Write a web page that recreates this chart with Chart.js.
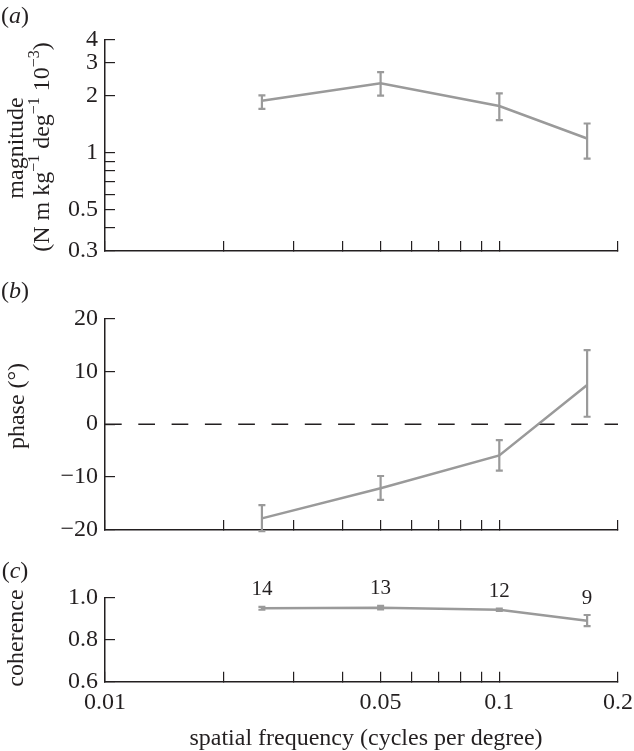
<!DOCTYPE html>
<html><head><meta charset="utf-8">
<script src="https://cdn.jsdelivr.net/npm/chart.js@4/dist/chart.umd.min.js"></script>
<style>
html,body{margin:0;padding:0;background:#fff;}
#wrap{position:relative;width:634px;height:751px;overflow:hidden;background:#fff;}
canvas{position:absolute;left:0;top:0;}
</style></head><body>
<div id="wrap">
<canvas id="ca" width="634" height="751"></canvas>
<canvas id="cb" width="634" height="751"></canvas>
<canvas id="cc" width="634" height="751"></canvas>
</div>
<script>
// ---------- data ----------
const freq = [0.025, 0.05, 0.1, 0.167];
const magnitude = [1.89, 2.34, 1.77, 1.19];
const magLow  = [1.71, 2.01, 1.49, 0.93];
const magHigh = [2.02, 2.68, 2.07, 1.43];
const phase = [-17.8, -12.1, -5.9, 7.4];
const phaseLow  = [-20.2, -14.3, -8.8, 1.4];
const phaseHigh = [-15.3, -9.8, -3.0, 14.0];
const coherence = [0.948, 0.951, 0.941, 0.889];
const cohLow  = [0.941, 0.943, 0.935, 0.863];
const cohHigh = [0.955, 0.959, 0.947, 0.916];
const nLabels = ['14', '13', '12', '9'];
const zeroLineX = [0.01, 0.2];
const zeroLineY = [0, 0];
const xTicks = [0.01, 0.02, 0.03, 0.04, 0.05, 0.06, 0.07, 0.08, 0.09, 0.1, 0.2];
const xTickLabels = ['0.01', '0.05', '0.1', '0.2'];
const magTicks = [0.3, 0.4, 0.5, 0.6, 0.7, 0.8, 0.9, 1, 2, 3, 4];
const magTickLabels = ['0.3', '0.5', '1', '2', '3', '4'];
const phaseTicks = [-20, -10, 0, 10, 20];
const cohTicks = [0.6, 0.8, 1.0];

// ---------- style ----------
const SERIF = "'Liberation Serif','Times New Roman',serif";
const INK = '#231f20';
const GRAY = '#9a9a9a';
const FS = 24;
const W = 634, H = 751, PL = 105, PR = 618;

function pts(xs, ys) { return xs.map((x, i) => ({x: x, y: ys[i]})); }

const errPlugin = {
  id: 'errbars',
  afterDatasetsDraw(chart) {
    const o = chart.options.plugins.errbars;
    if (!o || !o.low) return;
    const ctx = chart.ctx, xs = chart.scales.x, ys = chart.scales.y;
    ctx.save();
    ctx.strokeStyle = GRAY; ctx.lineWidth = 2.2; ctx.lineCap = 'butt';
    o.x.forEach((xv, i) => {
      const px = xs.getPixelForValue(xv);
      const y1 = ys.getPixelForValue(o.low[i]), y2 = ys.getPixelForValue(o.high[i]);
      ctx.beginPath();
      ctx.moveTo(px, y1); ctx.lineTo(px, y2);
      ctx.moveTo(px - 3.5, y1); ctx.lineTo(px + 3.5, y1);
      ctx.moveTo(px - 3.5, y2); ctx.lineTo(px + 3.5, y2);
      ctx.stroke();
      if (o.labels) {
        ctx.fillStyle = INK;
        ctx.font = '21px ' + SERIF;
        ctx.textAlign = 'center'; ctx.textBaseline = 'middle';
        ctx.fillText(o.labels[i], px, y2 - 17);
      }
    });
    ctx.restore();
  }
};

function fontFor(s) { return (s.sup ? '16px ' : (s.it ? 'italic ' + FS + 'px ' : FS + 'px ')) + SERIF; }

function drawRich(ctx, segs, x, y, rot) {
  ctx.save();
  ctx.translate(x, y);
  if (rot) ctx.rotate(-Math.PI / 2);
  ctx.textBaseline = 'middle'; ctx.textAlign = 'left';
  let total = 0;
  segs.forEach(s => { ctx.font = fontFor(s); s.w = ctx.measureText(s.t).width; total += s.w; });
  let cx = -total / 2;
  segs.forEach(s => {
    ctx.font = fontFor(s);
    ctx.fillStyle = INK;
    ctx.fillText(s.t, cx, s.sup ? -8 : 0);
    cx += s.w;
  });
  ctx.restore();
}

const textPlugin = {
  id: 'texts',
  afterDraw(chart) {
    const o = chart.options.plugins.texts;
    if (!o) return;
    o.items.forEach(it => drawRich(chart.ctx, it.segs, it.x, it.y, it.rot));
  }
};

function xScale(showLabels, h, pad) {
  return {
    type: 'logarithmic', min: 0.01, max: 0.2, position: 'bottom',
    afterBuildTicks: s => { s.ticks = xTicks.map(v => ({value: v})); },
    afterFit: s => { s.height = h; s.paddingLeft = 0; s.paddingRight = 0; s.paddingTop = 0; s.paddingBottom = 0; },
    grid: {display: true, drawOnChartArea: false, drawTicks: true, tickLength: -10, color: INK, lineWidth: 1.2},
    border: {display: true, color: INK, width: 1.5},
    ticks: {
      display: showLabels, autoSkip: false, maxRotation: 0, minRotation: 0, padding: pad,
      color: INK, font: {family: SERIF, size: FS},
      callback: v => { const s = String(+(+v).toPrecision(3)); return xTickLabels.includes(s) ? s : ''; }
    }
  };
}

function yScale(type, min, max, tickVals, fmt) {
  return {
    type: type, min: min, max: max, position: 'left',
    afterBuildTicks: s => { s.ticks = tickVals.map(v => ({value: v})); },
    afterFit: s => { s.width = PL; s.paddingTop = 0; s.paddingBottom = 0; s.paddingLeft = 0; s.paddingRight = 0; },
    grid: {display: true, drawOnChartArea: false, drawTicks: true, tickLength: -10, color: INK, lineWidth: 1.2},
    border: {display: true, color: INK, width: 1.5},
    ticks: {autoSkip: false, padding: 17, color: INK, font: {family: SERIF, size: FS}, callback: fmt}
  };
}

function makeChart(id, top, bottom, xh, datasets, y, extra) {
  return new Chart(document.getElementById(id), {
    type: 'line',
    data: {datasets: datasets},
    options: {
      responsive: false, animation: false, devicePixelRatio: 1,
      events: [],
      layout: {padding: {left: 0, right: W - PR, top: top, bottom: H - bottom - xh}},
      plugins: Object.assign({legend: {display: false}, tooltip: {enabled: false}}, extra),
      scales: {x: xScale(xh > 20, xh, 17), y: y}
    },
    plugins: [errPlugin, textPlugin]
  });
}

function lineDs(data) {
  return {data: data, borderColor: GRAY, borderWidth: 2.5, pointRadius: 0, tension: 0, fill: false};
}

// (a) magnitude
makeChart('ca', 39.5, 251, 10, [lineDs(pts(freq, magnitude))],
  yScale('logarithmic', 0.3, 4, magTicks, v => { const s = String(+(+v).toPrecision(3)); return magTickLabels.includes(s) ? s : ''; }),
  {
    errbars: {x: freq, low: magLow, high: magHigh},
    texts: {items: [
      {x: 15, y: 17, rot: false, segs: [{t: '('}, {t: 'a', it: true}, {t: ')'}]},
      {x: 17, y: 148, rot: true, segs: [{t: 'magnitude'}]},
      {x: 43, y: 147, rot: true, segs: [{t: '(N m kg'}, {t: '−1', sup: true}, {t: ' deg'}, {t: '−1', sup: true}, {t: ' 10'}, {t: '−3', sup: true}, {t: ')'}]}
    ]}
  });

// (b) phase
makeChart('cb', 318.3, 530, 10, [
    lineDs(pts(freq, phase)),
    {data: pts(zeroLineX, zeroLineY), borderColor: INK, borderWidth: 1.5, borderDash: [16.7, 16.6], pointRadius: 0, fill: false}
  ],
  yScale('linear', -20, 20, phaseTicks, v => (v < 0 ? '−' + Math.abs(v) : String(v))),
  {
    errbars: {x: freq, low: phaseLow, high: phaseHigh},
    texts: {items: [
      {x: 15, y: 292, rot: false, segs: [{t: '('}, {t: 'b', it: true}, {t: ')'}]},
      {x: 18, y: 406, rot: true, segs: [{t: 'phase (°)'}]}
    ]}
  });

// (c) coherence
makeChart('cc', 597.3, 681.7, 40, [lineDs(pts(freq, coherence))],
  yScale('linear', 0.6, 1.0, cohTicks, v => (+v).toFixed(1)),
  {
    errbars: {x: freq, low: cohLow, high: cohHigh, labels: nLabels},
    texts: {items: [
      {x: 15, y: 572, rot: false, segs: [{t: '('}, {t: 'c', it: true}, {t: ')'}]},
      {x: 17, y: 638, rot: true, segs: [{t: 'coherence'}]},
      {x: 366, y: 739, rot: false, segs: [{t: 'spatial frequency (cycles per degree)'}]}
    ]}
  });
</script>
</body></html>
